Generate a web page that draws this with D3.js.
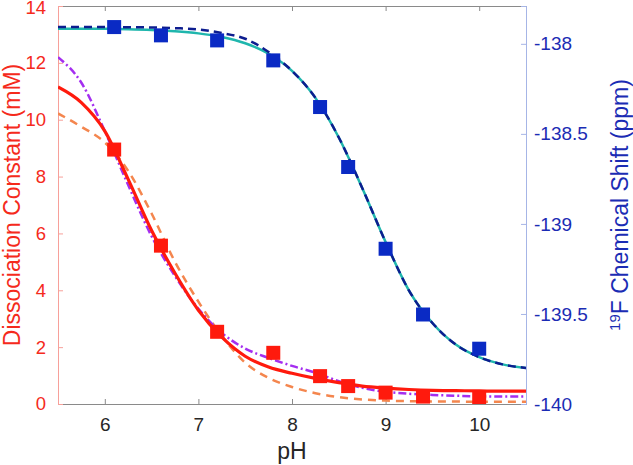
<!DOCTYPE html>
<html>
<head>
<meta charset="utf-8">
<script src="https://cdn.jsdelivr.net/npm/d3@7"></script>
<style>
  body { margin: 0; background: #fff; }
  svg { display: block; font-family: "Liberation Sans", Arial, sans-serif; }
</style>
</head>
<body>
<svg id="chart" width="633" height="465"></svg>
<script>
// measured points
var ph_points = [6.1, 6.6, 7.2, 7.8, 8.3, 8.6, 9.0, 9.4, 10.0];
var kd_points = [8.95, 5.57, 2.54, 1.80, 0.98, 0.63, 0.40, 0.26, 0.20];
var shift_points = [-137.907, -137.953, -137.981, -138.092, -138.351, -138.684, -139.138, -139.503, -139.693];

// fitted curves
var ph_grid = [5.5, 5.75, 6.0, 6.25, 6.5, 6.75, 7.0, 7.25, 7.5, 7.75, 8.0, 8.25, 8.5, 8.75, 9.0, 9.25, 9.5, 9.75, 10.0, 10.25, 10.5];
var kd_fit_solid = [11.15, 10.6, 9.6, 7.9, 6.1, 4.6, 3.3, 2.35, 1.68, 1.3, 1.08, 0.9, 0.75, 0.63, 0.56, 0.51, 0.48, 0.47, 0.46, 0.45, 0.45];
var kd_fit_dashed = [10.22, 9.75, 9.2, 8.2, 6.7, 5.0, 3.6, 2.4, 1.45, 0.92, 0.6, 0.38, 0.24, 0.16, 0.12, 0.1, 0.09, 0.085, 0.08, 0.08, 0.08];
var kd_fit_dashdot = [12.2, 11.3, 9.6, 7.7, 5.9, 4.5, 3.35, 2.5, 1.95, 1.62, 1.34, 1.1, 0.8, 0.57, 0.43, 0.36, 0.32, 0.29, 0.27, 0.26, 0.26];
var shift_fit_solid = [-137.916, -137.916, -137.917, -137.919, -137.923, -137.930, -137.942, -137.962, -137.997, -138.055, -138.15, -138.30, -138.52, -138.80, -139.10, -139.37, -139.55, -139.67, -139.74, -139.78, -139.80];
var shift_fit_dashed = [-137.907, -137.907, -137.907, -137.908, -137.909, -137.913, -137.920, -137.940, -137.972, -138.045, -138.15, -138.30, -138.52, -138.80, -139.10, -139.37, -139.55, -139.67, -139.74, -139.78, -139.80];

var x_ticks = [6, 7, 8, 9, 10];
var left_ticks = [0, 2, 4, 6, 8, 10, 12, 14];
var right_ticks = [-140, -139.5, -139, -138.5, -138];

const margin = {left: 58, right: 107, top: 6, bottom: 61};
const width = 633;
const height = 465;
const red = "#f52a1c";
const blue = "#1b2cb4";

var svg = d3.select('#chart');

var x = d3.scaleLinear().domain([5.5, 10.5]).range([margin.left, width - margin.right]);
var y_left = d3.scaleLinear().domain([0, 14]).range([height - margin.bottom, margin.top]);
var y_right = d3.scaleLinear().domain([-140, -137.79]).range([height - margin.bottom, margin.top]);

svg.append("clipPath").attr("id", "plotclip")
    .append("rect")
    .attr("x", margin.left).attr("y", margin.top)
    .attr("width", x.range()[1] - x.range()[0])
    .attr("height", y_left.range()[0] - y_left.range()[1]);

// axes (matlab style, ticks inside)
var bottom_axis = svg.append("g")
    .attr("transform", `translate(0,${height - margin.bottom})`)
    .call(d3.axisBottom(x).tickValues(x_ticks).tickSize(-5).tickPadding(14).tickFormat(d3.format("d")));
var top_axis = svg.append("g")
    .attr("transform", `translate(0,${margin.top})`)
    .call(d3.axisTop(x).tickValues(x_ticks).tickSize(-5).tickFormat(""));
var left_axis = svg.append("g")
    .attr("transform", `translate(${margin.left},0)`)
    .call(d3.axisLeft(y_left).tickValues(left_ticks).tickSize(-5).tickPadding(12).tickFormat(d3.format("d")));
var right_axis = svg.append("g")
    .attr("transform", `translate(${width - margin.right},0)`)
    .call(d3.axisRight(y_right).tickValues(right_ticks).tickSize(-5).tickPadding(8).tickFormat(d => String(d)));

[bottom_axis, top_axis].forEach(function (a) {
    a.select(".domain").attr("stroke", "#8a8a8a").attr("stroke-width", 1);
    a.selectAll(".tick line").attr("stroke", "#8a8a8a");
});
bottom_axis.selectAll("text").attr("fill", "#262626").style("font-size", "19px");
left_axis.select(".domain").attr("stroke", "#f7a09a");
left_axis.selectAll(".tick line").attr("stroke", "#f7a09a");
left_axis.selectAll("text").attr("fill", red).style("font-size", "18.5px")
    .attr("y", d => d === 14 ? 2 : 0);   // keep the top label inside the window
right_axis.select(".domain").attr("stroke", "#a6b5e6");
right_axis.selectAll(".tick line").attr("stroke", "#a6b5e6");
right_axis.selectAll("text").attr("fill", blue).style("font-size", "19px");

// axis titles
svg.append("text")
    .attr("x", x(8)).attr("y", 459)
    .attr("text-anchor", "middle")
    .attr("fill", "#262626")
    .style("font-size", "23px")
    .text("pH");

svg.append("text")
    .attr("transform", `translate(20,${(margin.top + height - margin.bottom) / 2}) rotate(-90)`)
    .attr("text-anchor", "middle")
    .attr("fill", red)
    .style("font-size", "23px")
    .text("Dissociation Constant (mM)");

var right_title = svg.append("text")
    .attr("transform", `translate(628,${(margin.top + height - margin.bottom) / 2}) rotate(-90)`)
    .attr("text-anchor", "middle")
    .attr("fill", blue)
    .style("font-size", "23px");
right_title.append("tspan").attr("dy", "-8").style("font-size", "15px").text("19");
right_title.append("tspan").attr("dy", "8").text("F Chemical Shift (ppm)");

// curves
var plot = svg.append("g").attr("clip-path", "url(#plotclip)");

function draw_curve(values, yscale, color, w, dash) {
    var line = d3.line()
        .x((d, i) => x(ph_grid[i]))
        .y(d => yscale(d))
        .curve(d3.curveMonotoneX);
    plot.append("path")
        .datum(values)
        .attr("fill", "none")
        .attr("stroke", color)
        .attr("stroke-width", w)
        .attr("stroke-dasharray", dash)
        .attr("d", line);
}

draw_curve(kd_fit_dashed, y_left, "#f4864e", 2.5, "8,6");
draw_curve(kd_fit_dashdot, y_left, "#a42ef0", 2.5, "8,3,2,3");
draw_curve(kd_fit_solid, y_left, "#ff1a0d", 3.2, null);
draw_curve(shift_fit_solid, y_right, "#1fb6ad", 2.5, null);
draw_curve(shift_fit_dashed, y_right, "#0d1d8f", 2.5, "8,5");

// squares
const sq = 14;
plot.selectAll(".kd_sq")
    .data(ph_points)
    .enter()
    .append("rect")
    .attr("class", "kd_sq")
    .attr("x", d => x(d) - sq / 2)
    .attr("y", (d, i) => y_left(kd_points[i]) - sq / 2)
    .attr("width", sq).attr("height", sq)
    .attr("fill", "#ff1a0d");

plot.selectAll(".shift_sq")
    .data(ph_points)
    .enter()
    .append("rect")
    .attr("class", "shift_sq")
    .attr("x", d => x(d) - sq / 2)
    .attr("y", (d, i) => y_right(shift_points[i]) - sq / 2)
    .attr("width", sq).attr("height", sq)
    .attr("fill", "#0a2ac4");
</script>
</body>
</html>
